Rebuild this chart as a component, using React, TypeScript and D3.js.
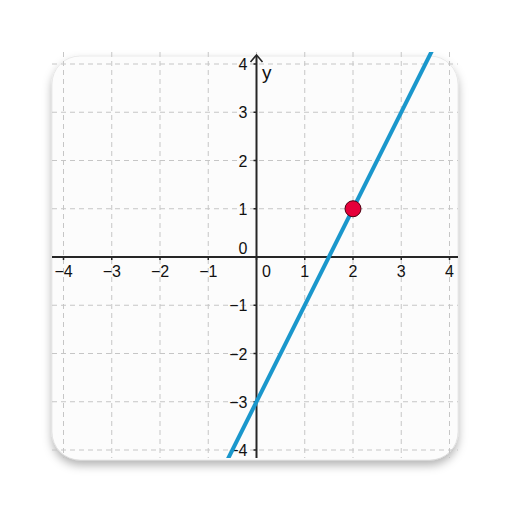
import React from "react";
import * as d3 from "d3";

const xTicks = [-4, -3, -2, -1, 0, 1, 2, 3, 4];
const yTicks = [-4, -3, -2, -1, 0, 1, 2, 3, 4];
const lineSlope = [2];
const lineIntercept = [-3];
const points = [{ x: 2, y: 1 }];

const fmt = (v: number) => (v < 0 ? "\u2212" + Math.abs(v) : String(v));

export default function App() {
  const W = 512, H = 512;
  const L = 52, R = 458, T = 52, B = 458;
  const x = d3.scaleLinear().domain([-4, 4]).range([63.5, 449.5]);
  const y = d3.scaleLinear().domain([-4, 4]).range([450, 64]);
  const x0 = x(0), y0 = y(0);
  const m = lineSlope[0], c = lineIntercept[0];
  const xs = [x.invert(L - 10), x.invert(R + 10)];
  const lineGen = d3.line<number>().x((d) => x(d)).y((d) => y(m * d + c));
  const font = "'Liberation Sans', Arial, sans-serif";
  return (
    <svg width={W} height={H} style={{ position: "absolute", left: 0, top: 0, background: "#fff" }}>
      <defs>
        <filter id="sh" x="-10%" y="-10%" width="120%" height="125%">
          <feDropShadow dx="0" dy="5" stdDeviation="5" floodColor="#000" floodOpacity="0.3" />
        </filter>
        <clipPath id="clip">
          <rect x={L} y={T} width={R - L} height={B - T} />
        </clipPath>
      </defs>
      <rect x={L} y={56} width={R - L} height={404} rx={28} fill="#fcfcfc" stroke="#d0d0d0" strokeWidth={0.4} filter="url(#sh)" />
      <g clipPath="url(#clip)">
        {xTicks.map((t) => (
          <line key={"gx" + t} x1={x(t)} x2={x(t)} y1={T} y2={B} stroke="#c6c6c6" strokeWidth={1} strokeDasharray="5,4" />
        ))}
        {yTicks.map((t) => (
          <line key={"gy" + t} x1={L} x2={R} y1={y(t)} y2={y(t)} stroke="#c6c6c6" strokeWidth={1} strokeDasharray="5,4" />
        ))}
        <line x1={L} x2={R} y1={y0} y2={y0} stroke="#262626" strokeWidth={2} />
        <line x1={x0} x2={x0} y1={56} y2={B} stroke="#262626" strokeWidth={2} />
        {xTicks.map((t) => (
          <line key={"tx" + t} x1={x(t)} x2={x(t)} y1={y0} y2={y0 + 3} stroke="#262626" strokeWidth={1.5} />
        ))}
        {yTicks.map((t) => (
          <line key={"ty" + t} x1={x0 - 3} x2={x0} y1={y(t)} y2={y(t)} stroke="#262626" strokeWidth={1.5} />
        ))}
      </g>
      <path d={`M${x0 - 6},${62} L${x0},${55} L${x0 + 6},${62}`} fill="none" stroke="#262626" strokeWidth={1.6} />
      <text x={262} y={79} fontFamily={font} fontSize={19} fill="#111">y</text>
      {xTicks.map((t) => (
        <text key={"lx" + t} x={t === 0 ? x0 + 10 : x(t)} y={277} textAnchor="middle" fontFamily={font} fontSize={16} fill="#111">
          {fmt(t)}
        </text>
      ))}
      {yTicks.map((t) => (
        <text key={"ly" + t} x={x0 - 9} y={t === 0 ? y0 - 3 : y(t) + 6} textAnchor="end" fontFamily={font} fontSize={16} fill="#111">
          {fmt(t)}
        </text>
      ))}
      <g clipPath="url(#clip)">
        <path d={lineGen(xs) || ""} fill="none" stroke="#1a97cc" strokeWidth={4} />
      </g>
      {points.map((p, i) => (
        <circle key={i} cx={x(p.x)} cy={y(p.y)} r={8} fill="#e6003a" stroke="#4a0010" strokeWidth={1} />
      ))}
    </svg>
  );
}
